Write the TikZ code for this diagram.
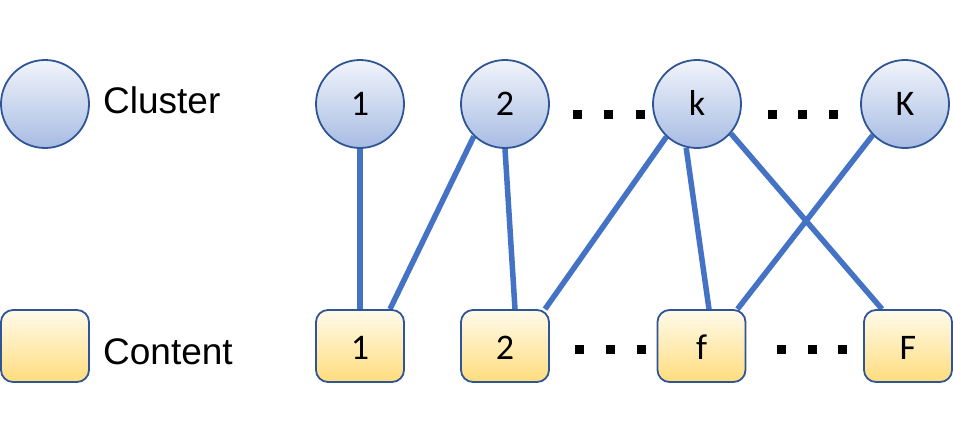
\documentclass[tikz,border=0pt]{standalone}
\usepackage{fontspec}
\setmainfont{Carlito}
\newfontfamily\legfont{Liberation Sans}
\usetikzlibrary{backgrounds}
\definecolor{bordc}{HTML}{2F5597}
\definecolor{cltop}{HTML}{F1F4FB}
\definecolor{clbot}{HTML}{A7BCE3}
\definecolor{cttop}{HTML}{FFFAEB}
\definecolor{ctbot}{HTML}{FFDD7D}
\definecolor{edgec}{HTML}{4472C4}
\begin{document}
\begin{tikzpicture}[x=1pt,y=-1pt,
  cl/.style={circle, minimum size=88pt, inner sep=0pt, draw=bordc, line width=1.8pt, top color=cltop, bottom color=clbot, font=\fontsize{36}{40}\selectfont, text height=22pt, text depth=0pt},
  ct/.style={rectangle, rounded corners=12pt, minimum width=88pt, minimum height=72pt, inner sep=0pt, draw=bordc, line width=1.8pt, top color=cttop, bottom color=ctbot, font=\fontsize{36}{40}\selectfont, text height=26pt, text depth=0pt},
  lab/.style={anchor=base west, inner sep=0pt, font=\legfont\fontsize{37}{44}\selectfont},
  sqdot/.style={rectangle, fill=black, minimum size=9pt, inner sep=0pt},
  link/.style={draw=edgec, line width=5.5pt}]
\useasboundingbox (0,0) rectangle (953,429);
% legend
\node[cl] (lc) at (45,104) {};
\node[lab] (lct) at (103,113) {Cluster};
\node[ct] (lb) at (45,346) {};
\node[lab] (lbt) at (103,364) {Content};
% clusters
\node[cl] (c1) at (360,104) {1};
\node[cl] (c2) at (505,104) {2};
\node[cl] (ck) at (697,104) {k};
\node[cl] (cK) at (905,104) {K};
% contents
\node[ct] (b1) at (360,346) {1};
\node[ct] (b2) at (505,346) {2};
\node[ct] (bf) at (701.5,346) {f};
\node[ct] (bF) at (908,346) {F};
% dots
\node[sqdot] (d1) at (577,114) {};
\node[sqdot] (d2) at (608,114) {};
\node[sqdot] (d3) at (640,114) {};
\node[sqdot] (d4) at (772,114) {};
\node[sqdot] (d5) at (802,114) {};
\node[sqdot] (d6) at (833,114) {};
\node[sqdot] (e1) at (579,349) {};
\node[sqdot] (e2) at (610,349) {};
\node[sqdot] (e3) at (641,349) {};
\node[sqdot] (e4) at (781,349) {};
\node[sqdot] (e5) at (812,349) {};
\node[sqdot] (e6) at (842,349) {};
% edges
\begin{pgfonlayer}{background}
\draw[link] (c1.south) -- (b1.north);
\draw[link] (c2.226) -- ([xshift=30pt]b1.north);
\draw[link] (c2.south) -- ([xshift=10pt]b2.north);
\draw[link] (ck.227) -- ([xshift=40pt]b2.north);
\draw[link] (ck.256) -- ([xshift=7.5pt]bf.north);
\draw[link] (ck.319) -- ([xshift=-26pt]bF.north);
\draw[link] (cK.224) -- ([xshift=36pt]bf.north);
\end{pgfonlayer}
\end{tikzpicture}
\end{document}
